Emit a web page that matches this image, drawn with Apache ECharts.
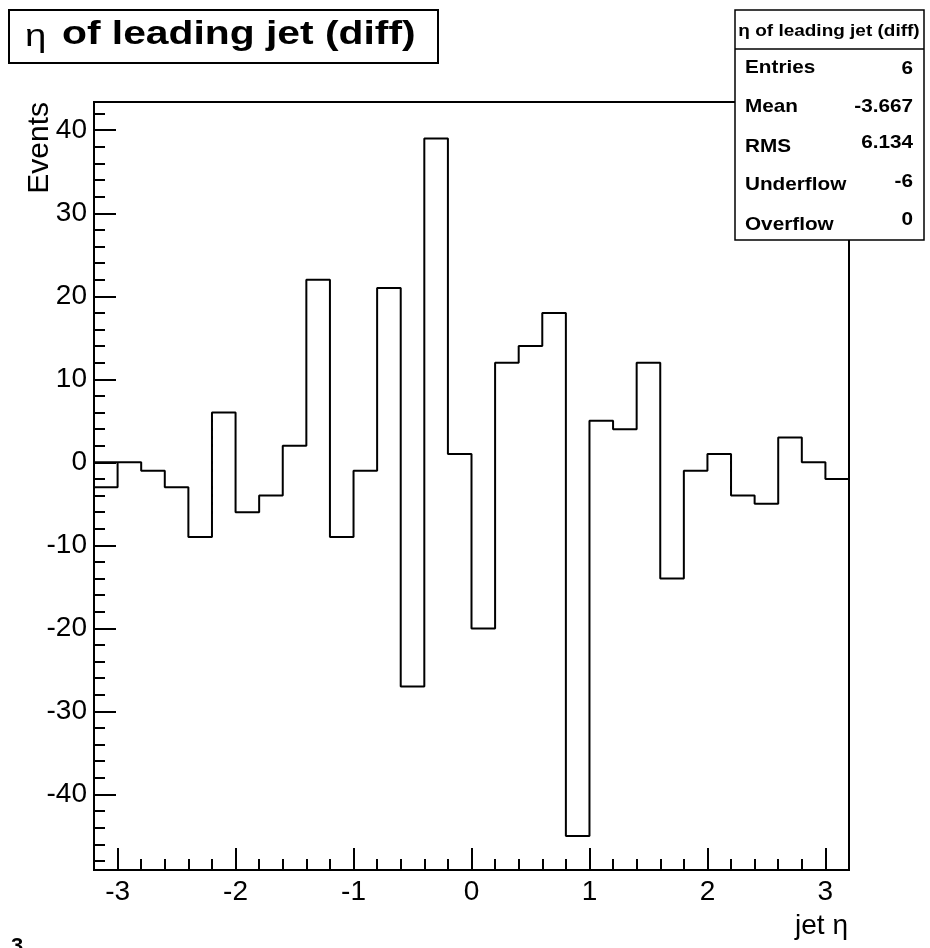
<!DOCTYPE html>
<html>
<head>
<meta charset="utf-8">
<script src="https://cdn.jsdelivr.net/npm/echarts@6/dist/echarts.min.js"></script>
<style>html,body{margin:0;padding:0;background:#fff}#c{width:930px;height:948px}</style>
</head>
<body>
<div id="c"></div>
<script>
// ---- data ----
const xMin = -3.2, xMax = 3.2, binWidth = 0.2;
const binValues = [-3, 0, -1, -3, -9, 6, -6, -4, 2, 22, -9, -1, 21, -27, 39, 1,
                   -20, 12, 14, 18, -45, 5, 4, 12, -14, -1, 1, -4, -5, 3, 0, -2];
const xMajorTicks = [-3, -2, -1, 0, 1, 2, 3];
const yMajorTicks = [-40, -30, -20, -10, 0, 10, 20, 30, 40];
const yMin = -49.1, yMax = 43.4;
const titleText = 'of leading jet (diff)';
const statsTitle = 'η of leading jet (diff)';
const statsLabels = ['Entries', 'Mean', 'RMS', 'Underflow', 'Overflow'];
const statsValues = ['6', '-3.667', '6.134', '-6', '0'];

// ---- derived ----
const r = v => Math.round(v * 1000) / 1000;
const edges = binValues.map((_, i) => r(xMin + i * binWidth)).concat([xMax]);
const pts = [[edges[1], 0], [edges[0], 0]];
binValues.forEach((v, i) => { pts.push([edges[i], v]); pts.push([edges[i + 1], v]); });
pts.push([edges[edges.length - 1], 0]);
const xMinor = [];
for (let i = 0; i <= binValues.length; i++) { const e = edges[i]; if (Math.abs(e - Math.round(e)) > 1e-6) xMinor.push(e); }
const yMinor = [];
for (let v = -48; v <= 42; v += 2) { if (v % 10 !== 0) yMinor.push(v); }

const FONT = '"Liberation Sans", Arial, Helvetica, sans-serif';
const chart = echarts.init(document.getElementById('c'), null, {renderer: 'canvas'});

const statsGraphics = [
  {type: 'rect', shape: {x: 735, y: 10, width: 189, height: 230}, style: {fill: '#fff', stroke: '#000', lineWidth: 1.5}, z: 100},
  {type: 'line', shape: {x1: 735, y1: 49, x2: 924, y2: 49}, style: {stroke: '#000', lineWidth: 1.5}, z: 101},
  {type: 'text', x: 829, y: 31, scaleX: 1.15, style: {text: statsTitle, font: 'bold 16.5px ' + FONT, fill: '#000', align: 'center', verticalAlign: 'middle'}, z: 101}
];
const labelY = [68.3, 106.7, 146.7, 185, 225];
const valueY = [69, 106.7, 143.4, 181.6, 220];
statsLabels.forEach((l, i) => {
  statsGraphics.push({type: 'text', x: 745, y: labelY[i], scaleX: 1.12, style: {text: l, font: 'bold 18.5px ' + FONT, fill: '#000', align: 'left', verticalAlign: 'middle'}, z: 101});
  statsGraphics.push({type: 'text', x: 913, y: valueY[i], scaleX: 1.12, style: {text: statsValues[i], font: 'bold 18.5px ' + FONT, fill: '#000', align: 'right', verticalAlign: 'middle'}, z: 101});
});

chart.setOption({
  animation: false,
  backgroundColor: '#fff',
  grid: {left: 94, right: 81, top: 102, bottom: 78, show: true, borderColor: '#000', borderWidth: 2, backgroundColor: 'transparent'},
  xAxis: [
    {type: 'value', min: xMin, max: xMax, position: 'bottom',
     axisLine: {show: true, onZero: false, lineStyle: {color: '#000', width: 2}},
     axisTick: {show: true, inside: true, length: 11, customValues: xMinor, lineStyle: {color: '#000', width: 2}},
     axisLabel: {show: false}, splitLine: {show: false}},
    {type: 'value', min: xMin, max: xMax, position: 'bottom', gridIndex: 0,
     axisLine: {show: false, onZero: false},
     axisTick: {show: true, inside: true, length: 22, customValues: xMajorTicks, lineStyle: {color: '#000', width: 2}},
     axisLabel: {show: true, customValues: xMajorTicks, margin: 8, color: '#000', fontSize: 28, fontFamily: FONT, formatter: v => String(v)},
     splitLine: {show: false}}
  ],
  yAxis: [
    {type: 'value', min: yMin, max: yMax, position: 'left',
     axisLine: {show: true, onZero: false, lineStyle: {color: '#000', width: 2}},
     axisTick: {show: true, inside: true, length: 11, customValues: yMinor, lineStyle: {color: '#000', width: 2}},
     axisLabel: {show: false}, splitLine: {show: false}},
    {type: 'value', min: yMin, max: yMax, position: 'left', gridIndex: 0,
     axisLine: {show: false, onZero: false},
     axisTick: {show: true, inside: true, length: 22, customValues: yMajorTicks, lineStyle: {color: '#000', width: 2}},
     axisLabel: {show: true, customValues: yMajorTicks, margin: 7, color: '#000', fontSize: 28, fontFamily: FONT, formatter: v => String(v)},
     splitLine: {show: false}}
  ],
  series: [{
    type: 'line', xAxisIndex: 0, yAxisIndex: 0, data: pts, showSymbol: false, symbol: 'none',
    lineStyle: {color: '#000', width: 2}, clip: true, silent: true
  }],
  graphic: [
    {type: 'rect', shape: {x: 9, y: 10, width: 429, height: 53}, style: {fill: '#fff', stroke: '#000', lineWidth: 2}, z: 100},
    {type: 'text', x: 25, y: 37, scaleX: 1.2, style: {text: 'η', font: '32px ' + FONT, fill: '#000', align: 'left', verticalAlign: 'middle'}, z: 101},
    {type: 'text', x: 62, y: 35, scaleX: 1.2, style: {text: titleText, font: 'bold 34px ' + FONT, fill: '#000', align: 'left', verticalAlign: 'middle'}, z: 101},
    {type: 'text', x: 40, y: 102, rotation: Math.PI / 2, style: {text: 'Events', font: '30px ' + FONT, fill: '#000', align: 'right', verticalAlign: 'middle'}, z: 101},
    {type: 'text', x: 848, y: 926, style: {text: 'jet η', font: '28px ' + FONT, fill: '#000', align: 'right', verticalAlign: 'middle'}, z: 101},
    {type: 'text', x: 11, y: 936, style: {text: '3', font: 'bold 22px ' + FONT, fill: '#000', align: 'left', verticalAlign: 'top'}, z: 101}
  ].concat(statsGraphics)
});
</script>
</body>
</html>
